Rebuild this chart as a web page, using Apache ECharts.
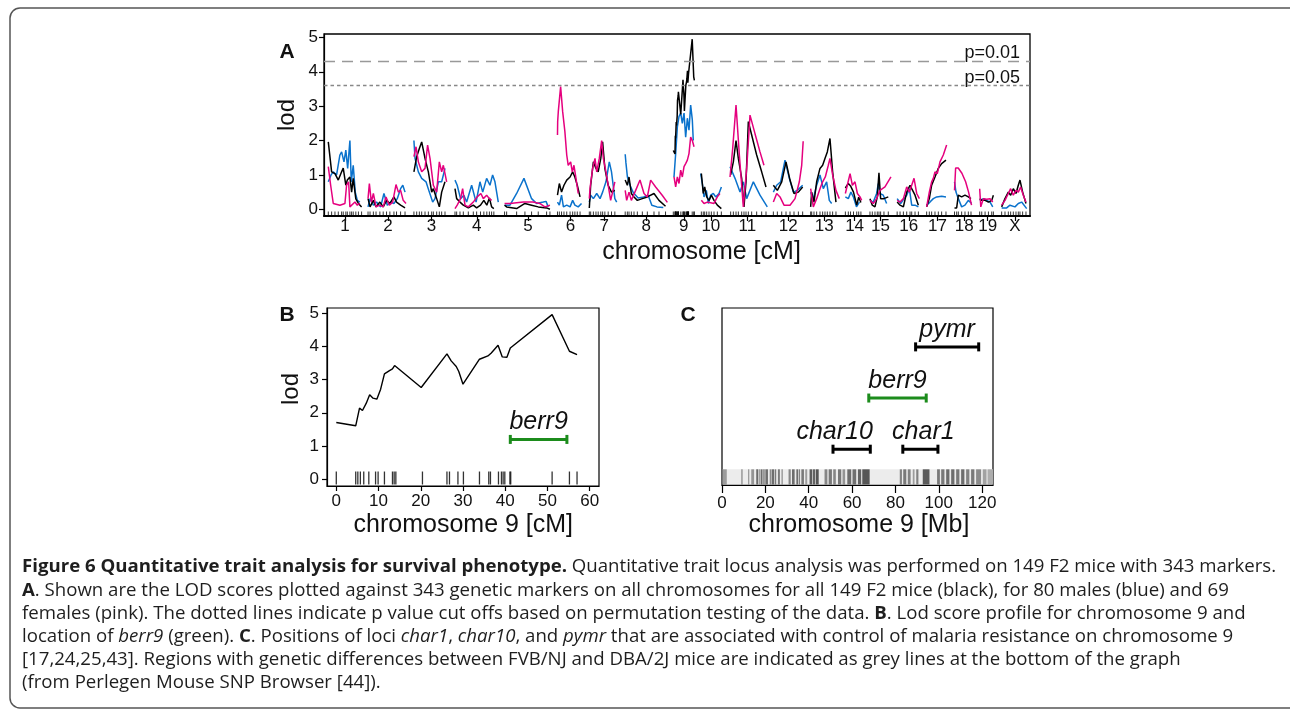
<!DOCTYPE html>
<html><head><meta charset="utf-8">
<script src="https://cdn.jsdelivr.net/npm/echarts@6/dist/echarts.min.js"></script>
<style>html,body{margin:0;padding:0;background:#fff}#c{width:1290px;height:716px}</style>
</head><body><div id="c"></div>
<script>
// ---------------- DATA ----------------
const chrNames = ['1','2','3','4','5','6','7','8','9','10','11','12','13','14','15','16','17','18','19','X'];
const chromLenCM = [92,108,95,118,127,70,81,114,57,57,108,81,82,50,58,63,60,52,43,72];

// chromosome 9 profile (all 149 mice), panel B, [cM, lod]
const chr9Pos = [0,4.6,5.5,6.2,7.1,7.9,8.7,9.6,10.5,11.4,12.5,13.3,13.8,14.2,20.1,26.2,27.2,28.4,29,30,33.9,35.9,36.7,38.3,39.3,40.4,41.2,51.1,55.2,57];
const chr9Lod = [1.71,1.61,2.14,2.07,2.29,2.54,2.44,2.41,2.71,3.17,3.26,3.32,3.42,3.42,2.76,3.77,3.56,3.39,3.24,2.86,3.61,3.71,3.80,4.03,3.68,3.67,3.95,4.95,3.85,3.75];
const chr9Markers = [0,4.6,5.1,5.7,6.5,7.7,9.3,9.9,11.4,13.3,13.7,14.1,20.4,26.2,26.8,28.8,30.1,33.9,36.1,36.5,38.4,39.1,39.5,39.9,41.1,41.3,51.1,55.2,57.0];

// genome scan, one list per chromosome of [cM, lod]
const lodAll = [
 [[0.6,1.96],[9.6,1.09],[18.6,1.04],[27.6,0.85],[36.6,1.09],[41,1.2],[48,0.7],[52,0.85],[59,0.94],[63.6,0.5],[68,0.9],[75,0.3],[82,0.17],[90.6,0.07]],
 [[0,0.31],[5.4,0.07],[14.4,0.26],[21.6,0.07],[32,0.21],[41,0.07],[50,0.26],[59,0.17],[70,0.36],[77,0.21],[88,0.12],[100,0.04]],
 [[0,1.09],[7.5,1.53],[14.7,1.77],[21,1.96],[30,1.48],[39,1.09],[48,0.5],[52.5,0.6],[61.5,0.31],[68.7,0.07],[75,0.5],[84,0.8]],
 [[0,0.6],[4.5,0.31],[13.5,0.21],[22.5,0.12],[36,0.04],[49.5,0.12],[58.5,0.04],[69,0.12],[78,0.26],[86,0.12],[93,0.33],[99,0.07],[105,0.02]],
 [[0,0.12],[5.6,0.07],[32.6,0.02],[55,0.17],[73,0.12],[91,0.07],[113.6,0.04],[122.6,0]],
 [[0,0.41],[5,0.75],[11,0.5],[17.5,0.7],[25,0.85],[34,0.94],[41,1.09],[47,0.94],[53.5,0.7],[61,0.36]],
 [[0,0.04],[3.7,0.7],[11,1.38],[18,1.19],[24,1.09],[31,1.48],[36,1.96],[42,1.19],[51,0.7],[60,0.5],[69,0.55]],
 [[0,0.85],[5.8,0.7],[10.3,0.94],[16.6,0.46],[23.8,0.36],[32.8,0.26],[46.3,0.31],[59.8,0.36],[77.8,0.46],[91.3,0.26],[109,0.09]],
 null,
 [[2.8,1.04],[8,0.46],[11.8,0.65],[17.2,0.36],[23.5,0.26],[29.8,0.41],[37,0.26],[46,0.12],[56.8,0.02]],
 [[9,1.0],[16.3,1.38],[23.5,2.0],[29.8,1.48],[38.8,0.9],[45,0.07],[50.5,0.8],[56.8,2.55],[65.8,2.16],[79.3,1.58],[92.8,1.09],[104.5,0.65]],
 [[0.4,0.7],[11.2,0.55],[23,0.8],[34.6,1.38],[45.4,0.85],[56.2,0.46],[68,0.5],[79.6,0.65]],
 [[4.2,0.07],[7,0.5],[13.2,0.21],[20.4,0.8],[29.4,1.19],[36.6,1.28],[42.9,1.48],[49.2,1.67],[56.4,2.06],[63.6,1.09],[72.6,0.21]],
 [[0,0.62],[8,0.75],[14,0.68],[22,0.5],[30.7,0.12],[36,0.35],[42,0.2]],
 [[0.5,0.31],[6.8,0.12],[14,0.07],[20.3,0.36],[24.8,1.06],[29.3,0.31],[38.3,0.31],[50,0.36]],
 [[0,0.21],[7.8,0.12],[16.8,0.07],[25.8,0.5],[34.8,0.7],[39.3,0.6],[48.3,0.41],[57.3,0.12]],
 [[0.7,0.07],[7.9,0.31],[14.2,0.7],[23.2,0.94],[32.2,1.19],[41.2,1.33],[52.9,1.43]],
 [[0,0.04],[5.8,0.04],[10.3,0.41],[19.3,0.36],[28.3,0.41],[37.3,0.36],[44.5,0.31]],
 [[0,0.31],[5.6,0.26],[14.6,0.26],[23.6,0.21],[32.6,0.26],[37,0.41]],
 [[0.4,0.07],[9.4,0.31],[18.4,0.5],[24.7,0.41],[31.9,0.6],[39.1,0.46],[45.4,0.7],[49.9,0.85],[57.1,0.5],[66.1,0.17]]
];
const lodMale = [
 [[0.6,0.8],[8,1.0],[14,1.09],[23,1.0],[32,1.58],[36.6,1.67],[43,1.38],[48,1.72],[53,1.19],[59,2.0],[62.7,0.8],[68,1.28],[73.5,0.5],[79,0.26],[86,0.21]],
 [[0,0.07],[5.4,0.31],[14.4,0.12],[23,0.21],[34,0.07],[43,0.46],[52,0.12],[61,0.21],[70,0.17],[79,0.31],[88,0.6],[94,0.7],[100,0.5]],
 [[0,2.0],[3,1.48],[12,1.09],[21,0.9],[32.7,0.8],[41.7,0.5],[50.7,0.21],[57,0.31],[66,0.8],[75,0.8],[84,1.19]],
 [[0,0.85],[6,0.7],[15,0.31],[24,0.41],[31.5,0.21],[45,0.7],[57,0.21],[67.5,0.8],[75,0.5],[85.5,0.9],[94.5,0.7],[101.7,1.0],[108,0.8],[117,0.21]],
 [[0,0.12],[14.6,0.12],[32.6,0.46],[52.4,0.9],[73,0.31],[86.6,0.17],[104.6,0.21],[112,0.23],[118,0.07]],
 [[0,0.21],[5,0.12],[11,0.41],[16,0.07],[25,0.12],[34,0.07],[41,0.26],[47,0.12],[56,0.07],[65,0.17]],
 [[0,0.21],[3.7,0.41],[11,0.31],[20,0.46],[29,0.31],[36,0.5],[45,0.8],[54,1.38],[60,1.09],[69,0.31],[74,0.21]],
 [[0,1.6],[2,1.35],[6,0.94],[13,0.7],[22,0.48],[35,0.33],[50,0.36],[62,0.41],[72,0.12],[86,0.07],[103,0.05]],
 [[1.9,0.94],[6.4,1.62],[11,2.4],[15.4,2.7],[20,2.8],[24.4,2.5],[29,2.8],[33.4,2.1],[38,2.65],[42.4,2.3],[46.9,3.03],[51.4,2.6],[54,2.0]],
 [[1,1.04],[5.5,0.75],[10,0.36],[16.3,0.55],[21.7,0.17],[28,0.41],[35.2,0.46],[41.5,0.36],[50.5,0.46],[57,0.65]],
 [[7.3,1.24],[20.8,0.9],[34.3,0.5],[43.3,0.8],[52.3,0.31],[70.3,0.8],[88.3,0.41],[108,0.07]],
 [[0.4,0.5],[9.4,0.7],[20.2,0.8],[31.9,1.43],[43.6,0.9],[54.4,0.5],[65,0.55],[79.6,0.7]],
 [[4.2,0.5],[11.4,0.31],[20.4,0.7],[29.4,1.0],[38.4,0.6],[47.4,0.8],[54.6,0.26],[61,0.17]],
 [[0,0.36],[8,0.31],[15,0.5],[22,0.35],[30,0.07],[38,0.21]],
 [[0.5,0.26],[9.5,0.21],[18.5,0.46],[23,0.75],[27.5,0.46],[36.5,0.41],[45.5,0.17]],
 [[0,0.31],[9.6,0.17],[18.6,0.31],[25.8,0.41],[33,0.6],[39.3,0.12],[48.3,0.12],[57.3,0.07]],
 [[0.7,0.12],[9.7,0.21],[18.7,0.31],[27.7,0.36],[41.2,0.38],[52.9,0.36]],
 [[0,0.8],[4,0.5],[10.3,0.31],[19.3,0.07],[28.3,0.12],[37.3,0.26],[46.3,0.17]],
 [[0,0.26],[10.1,0.31],[19.1,0.26],[28.1,0.21],[35.3,0.07]],
 [[0.4,0.04],[13.9,0.04],[22.9,0.12],[36.4,0.07],[45.4,0.17],[54.4,0.21],[68,0.02]]
];
const lodFemale = [
 [[0.6,1.24],[7,0.7],[14,0.17],[32,0.12],[45.6,0.17],[50,0.7],[55.5,0.8],[59,0.07],[63.6,0.02],[72.6,0.21],[79,0.12],[86,0.17]],
 [[0,0.31],[3.6,0.75],[9,0.21],[14.4,0.46],[21.6,0.07],[32,0.12],[41,0.07],[48.6,0.36],[57.6,0.12],[66.6,0.21],[75.6,0.72],[82,0.5],[88,0.55],[95,0.26],[102.6,0.17]],
 [[0,1.53],[5.7,1.82],[12,1.38],[21,1.09],[30,1.19],[37,1.87],[43.5,1.48],[52.5,0.7],[61.5,0.5],[68.7,1.38],[75,1.09],[79.5,1.28],[88.5,0.8]],
 [[0,0.02],[6,0.12],[15,0.31],[20.7,0.6],[27,0.12],[36,0.07],[49.5,0.21],[60,0.36],[70,0.46],[76.5,0.31],[85.5,0.41],[93,0.31],[99,0.26]],
 [[0,0.17],[14.6,0.17],[50.6,0.21],[77,0.21],[95,0.17],[109,0.07],[122.6,0.12]],
 [[0,2.16],[0.5,2.55],[2.2,2.84],[8.5,3.57],[14,2.84],[20,2.26],[25,1.58],[29,1.28],[35.6,1.38],[40,1.09],[44.5,1.28],[50,0.9],[56,0.46]],
 [[0,0.31],[1.9,0.6],[9,1.19],[15.4,1.48],[20,1.09],[27,1.48],[33.4,2.0],[38,1.48],[45,1.09],[51,0.7],[57.7,0.26],[63,0.5],[69,0.8]],
 [[0,0.55],[4,0.26],[10.3,0.5],[16.6,0.26],[28.3,0.55],[40,0.85],[50.8,0.46],[59.8,0.36],[68.8,0.85],[82.3,0.65],[100,0.41],[114,0.2]],
 [[1.9,0.94],[6.4,0.65],[11,0.94],[15.4,0.75],[20,1.14],[24.4,0.94],[29,1.24],[33.4,1.33],[38,1.43],[42.4,1.62],[46.9,2.1],[51.4,2.0],[56,1.82]],
 [[2.8,0.26],[10,0.17],[19,0.21],[28,0.19],[37,0.17],[46,0.36],[53,0.46]],
 [[7.3,0.94],[14.5,1.77],[23.5,3.03],[32.5,1.58],[43.3,0.07],[52.3,1.19],[61.3,2.74],[74.8,2.2],[88.3,1.67],[99,1.28]],
 [[0.4,0.21],[9.4,0.46],[18.4,0.36],[29.2,0.12],[45.4,0.12],[59,0.31],[70.6,0.8],[77,1.28],[81,1.98]],
 [[4.2,0.6],[11.4,0.07],[20.4,0.31],[29.4,0.6],[36.6,0.8],[43.8,0.94],[51.9,1.28],[56.4,1.48],[63.6,1.0],[72.6,0.55],[81.6,0.31]],
 [[0,0.46],[6.4,0.75],[12.7,1.04],[19,0.7],[26,0.8],[32.5,0.46],[39.7,0.36],[44,0.26]],
 [[0.5,0.26],[9.5,0.17],[18.5,0.31],[27.5,0.55],[41,0.65],[57.2,0.94]],
 [[0,0.26],[7.8,0.21],[16.8,0.31],[25.8,0.65],[33,0.5],[39.3,0.7],[45.6,0.9],[52.8,0.46],[60,0.31]],
 [[0.7,0.07],[7.9,0.5],[14.2,0.8],[18.7,0.9],[23.2,1.09],[29.5,1.04],[36.7,1.38],[45.7,1.58],[54.7,1.87]],
 [[0,0.55],[3,1.2],[10,1.2],[20,1.05],[30,0.8],[38,0.5],[46,0.12]],
 [[0,0.6],[3,0.07],[10.1,0.31],[19.1,0.29],[28.1,0.31],[35.3,0.21]],
 [[0.4,0.12],[9.4,0.26],[18.4,0.46],[24.7,0.6],[31.9,0.41],[39.1,0.55],[45.4,0.5],[51.7,0.65],[58.9,0.41],[66.1,0.21]]
];

// permutation thresholds
const thresholdP = ['0.01','0.05'];
const thresholdLod = [4.31, 3.6];

// tick labels
const lodTicks = [0,1,2,3,4,5];
const cMTicksB = [0,10,20,30,40,50,60];
const mbTicksC = [0,20,40,60,80,100,120];

// loci: panel B (cM) and panel C (Mb)
const berr9CM = [41.2, 54.6];
const lociNames = ['pymr','berr9','char10','char1'];
const lociStartMb = [89.3, 67.7, 51.2, 83.4];
const lociEndMb = [118.4, 94.2, 68.4, 99.6];
const lociRow = [3, 2, 1, 1];

// FVB/NJ vs DBA/2J differing regions [startMb, endMb, darkness]
const snpRegions = [
 [0,2.2,0.45],[8.9,9.5,0.55],[12,12.6,0.45],[13.5,14.8,0.5],[15.8,16.6,0.75],[16.9,17.4,0.6],[17.8,18.7,0.72],[19,19.7,0.6],
 [20,21.2,0.72],[22,22.8,0.55],[23,24,0.72],[24.3,25,0.65],[25.8,26.7,0.65],[27.4,28.1,0.45],[30.7,31.7,0.58],[32.3,33.5,0.72],
 [34.3,35.1,0.72],[35.4,36,0.6],[36.6,37.8,0.65],[38.4,39.3,0.45],[40.4,41.6,0.82],[41.9,43,0.78],[43.3,44.6,0.85],
 [47.3,48.6,0.58],[49.2,50.7,0.65],[51.3,52.5,0.58],[53.5,55,0.65],[55.6,56.8,0.5],[57.8,59.6,0.72],[60.2,61.9,0.7],
 [62.7,64.2,0.78],[64.7,68.1,0.85],[82,83,0.6],[83.6,85,0.65],[85.7,87,0.6],[88,88.8,0.45],[89.6,90.6,0.6],[92.6,95.7,0.82],
 [99.2,100.5,0.65],[101.1,102.6,0.65],[103.4,104.9,0.72],[105.7,107.2,0.72],[108,109.5,0.65],[110.3,111.8,0.72],
 [112.6,114.1,0.6],[114.9,116.4,0.65],[117.2,119.5,0.55],[120.3,122,0.42],[122.5,125,0.36]
];

const captionLines = [
 '{b|Figure 6 Quantitative trait analysis for survival phenotype.} Quantitative trait locus analysis was performed on 149 F2 mice with 343 markers.',
 '{b|A}. Shown are the LOD scores plotted against 343 genetic markers on all chromosomes for all 149 F2 mice (black), for 80 males (blue) and 69',
 'females (pink). The dotted lines indicate p value cut offs based on permutation testing of the data. {b|B}. Lod score profile for chromosome 9 and',
 'location of {i|berr9} (green). {b|C}. Positions of loci {i|char1}, {i|char10}, and {i|pymr} that are associated with control of malaria resistance on chromosome 9',
 '[17,24,25,43]. Regions with genetic differences between FVB/NJ and DBA/2J mice are indicated as grey lines at the bottom of the graph',
 '(from Perlegen Mouse SNP Browser [44]).'
];

// ---------------- BUILD ----------------
lodAll[8] = chr9Pos.map((p, i) => [p, chr9Lod[i]]);
const CHR_GAP = 16;
const starts = [];
let acc = 0;
chromLenCM.forEach(L => { starts.push(acc); acc += L + CHR_GAP; });
const centers = chromLenCM.map((L, i) => starts[i] + L / 2);
function toGenome(perChr) {
  const out = [];
  perChr.forEach((pts, i) => {
    pts.forEach(p => out.push([starts[i] + p[0], p[1]]));
    out.push([starts[i] + chromLenCM[i] + CHR_GAP / 2, '-']);
  });
  return out;
}
const rugA = [];
lodAll.forEach((pts, i) => {
  const xs = i === 8 ? chr9Markers : pts.map(p => p[0]);
  xs.forEach(x => rugA.push([starts[i] + x, -0.13]));
});

const FONT = '"Liberation Sans", Arial, Helvetica, sans-serif';
const BLACK = '#000', BLUE = '#0a72cc', PINK = '#e5007e', GREEN = '#1c8c1c';
const TXT = '#111';

function chrLabel(v) {
  let best = 0, bd = Infinity;
  centers.forEach((c, i) => { const d = Math.abs(c - v); if (d < bd) { bd = d; best = i; } });
  return chrNames[best];
}

function axisBase(extra) {
  return Object.assign({
    type: 'value',
    splitLine: { show: false },
    axisLine: { show: true, onZero: false, lineStyle: { color: '#000', width: 1.2 } },
  }, extra);
}

const labelShiftPx = { char10: -17, char1: 3 };

function intervalRender(names, colorFn) {
  return function (params, api) {
    const s = api.coord([api.value(0), api.value(2)]);
    const e = api.coord([api.value(1), api.value(2)]);
    const name = names[params.dataIndex];
    const col = colorFn(name);
    const cap = 4.5;
    return {
      type: 'group',
      children: [
        { type: 'line', shape: { x1: s[0], y1: s[1], x2: e[0], y2: e[1] }, style: { stroke: col, lineWidth: 3 } },
        { type: 'line', shape: { x1: s[0], y1: s[1] - cap, x2: s[0], y2: s[1] + cap }, style: { stroke: col, lineWidth: 3 } },
        { type: 'line', shape: { x1: e[0], y1: e[1] - cap, x2: e[0], y2: e[1] + cap }, style: { stroke: col, lineWidth: 3 } },
        { type: 'text', x: (s[0] + e[0]) / 2 + (labelShiftPx[name] || 0), y: s[1] - 17,
          style: { text: name, fill: TXT, font: 'italic 25px ' + FONT, align: 'center', verticalAlign: 'middle', textAlign: 'center', textVerticalAlign: 'middle' } }
      ]
    };
  };
}

// caption font size fitted to the measured line width
const mctx = document.createElement('canvas').getContext('2d');
const CAP_FAMILY = '"Open Sans", "Noto Sans", sans-serif';
mctx.font = '100px ' + CAP_FAMILY;
const capFont = 100 * 1160 / mctx.measureText(captionLines[4]).width;

const chart = echarts.init(document.getElementById('c'), null, { renderer: 'canvas' });

const tickLabel = (margin, extra) => Object.assign({ margin, fontSize: 17, color: TXT, fontFamily: FONT }, extra || {});

const graphics = [
  { type: 'rect', shape: { x: 10, y: 8, width: 1300, height: 700, r: 10 }, style: { fill: 'none', stroke: '#555', lineWidth: 1.5 }, z: -1 },
  { type: 'text', x: 287, y: 52, style: { text: 'A', fontSize: 21, fontWeight: 'bold', fontFamily: FONT, fill: TXT, textAlign: 'center', textVerticalAlign: 'middle' } },
  { type: 'text', x: 287, y: 315.5, style: { text: 'B', fontSize: 21, fontWeight: 'bold', fontFamily: FONT, fill: TXT, textAlign: 'center', textVerticalAlign: 'middle' } },
  { type: 'text', x: 688, y: 315.5, style: { text: 'C', fontSize: 21, fontWeight: 'bold', fontFamily: FONT, fill: TXT, textAlign: 'center', textVerticalAlign: 'middle' } },
  { type: 'text', x: 287.6, y: 115, rotation: Math.PI / 2, style: { text: 'lod', fontSize: 24, fontFamily: FONT, fill: TXT, textAlign: 'center', textVerticalAlign: 'middle' } },
  { type: 'text', x: 290.9, y: 389, rotation: Math.PI / 2, style: { text: 'lod', fontSize: 24, fontFamily: FONT, fill: TXT, textAlign: 'center', textVerticalAlign: 'middle' } },
  { type: 'text', x: 701.5, y: 251.7, style: { text: 'chromosome [cM]', fontSize: 25, fontFamily: FONT, fill: TXT, textAlign: 'center', textVerticalAlign: 'middle' } },
  { type: 'text', x: 463.3, y: 525.2, style: { text: 'chromosome 9 [cM]', fontSize: 25, fontFamily: FONT, fill: TXT, textAlign: 'center', textVerticalAlign: 'middle' } },
  { type: 'text', x: 859, y: 525.2, style: { text: 'chromosome 9 [Mb]', fontSize: 25, fontFamily: FONT, fill: TXT, textAlign: 'center', textVerticalAlign: 'middle' } },
  { type: 'rect', shape: { x: 722.5, y: 469.3, width: 270.5, height: 15.2 }, style: { fill: '#ececec' }, z: 0 }
];
captionLines.forEach((t, i) => {
  graphics.push({
    type: 'text', x: 22, y: 567 + i * 23.2,
    style: {
      text: t, fontSize: capFont, fontFamily: CAP_FAMILY, fill: '#1e1e1e', textAlign: 'left', textVerticalAlign: 'middle',
      rich: {
        b: { fontSize: capFont, fontFamily: CAP_FAMILY, fontWeight: 'bold', fill: '#1e1e1e' },
        i: { fontSize: capFont, fontFamily: CAP_FAMILY, fontStyle: 'italic', fill: '#1e1e1e' }
      }
    }
  });
});

const option = {
  animation: false,
  backgroundColor: '#fff',
  grid: [
    { left: 324, top: 34, width: 706, height: 182, show: true, borderColor: '#000', borderWidth: 1.3, backgroundColor: 'transparent' },
    { left: 327, top: 308, width: 272, height: 178, show: true, borderColor: '#000', borderWidth: 1.2, backgroundColor: 'transparent' },
    { left: 722, top: 308, width: 271, height: 177, show: true, borderColor: '#000', borderWidth: 1.2, backgroundColor: 'transparent' }
  ],
  xAxis: [
    axisBase({ gridIndex: 0, min: -11, max: 1897,
      axisLine: { show: true, onZero: false, lineStyle: { color: '#000', width: 2 } },
      axisTick: { show: true, customValues: centers, length: 5, lineStyle: { color: '#000', width: 1.2 } },
      axisLabel: tickLabel(2, { customValues: centers, formatter: v => chrLabel(v) }) }),
    axisBase({ gridIndex: 1, min: -2.2, max: 62.2,
      axisTick: { show: true, customValues: cMTicksB, length: 5, lineStyle: { color: '#000', width: 1.2 } },
      axisLabel: tickLabel(7, { customValues: cMTicksB }) }),
    axisBase({ gridIndex: 2, min: 0, max: 125,
      axisTick: { show: true, customValues: mbTicksC, length: 8, lineStyle: { color: '#000', width: 1.2 } },
      axisLabel: tickLabel(10, { customValues: mbTicksC }) })
  ],
  yAxis: [
    axisBase({ gridIndex: 0, min: -0.195, max: 5.1,
      axisTick: { show: true, customValues: lodTicks, length: 5, lineStyle: { color: '#000', width: 1.2 } },
      axisLabel: tickLabel(6, { customValues: lodTicks }) }),
    axisBase({ gridIndex: 1, min: -0.2, max: 5.15,
      axisTick: { show: true, customValues: lodTicks, length: 5, lineStyle: { color: '#000', width: 1.2 } },
      axisLabel: tickLabel(8, { customValues: lodTicks }) }),
    { type: 'value', gridIndex: 2, min: 0.3, max: 3.76, show: false }
  ],
  graphic: { elements: graphics },
  series: [
    { type: 'line', xAxisIndex: 0, yAxisIndex: 0, data: [], silent: true, z: 1,
      markLine: { silent: true, symbol: 'none', animation: false,
        data: thresholdLod.map((v, i) => ({
          yAxis: v,
          lineStyle: { color: i === 0 ? '#999' : '#888', width: 1.3, type: i === 0 ? [11, 7] : [3.5, 3] },
          label: { show: true, position: 'insideEndTop', formatter: 'p=' + thresholdP[i], color: TXT, fontSize: 18, fontFamily: FONT, distance: [10, -1] }
        })) } },
    { type: 'line', xAxisIndex: 0, yAxisIndex: 0, data: toGenome(lodMale), symbol: 'none', silent: true, z: 2,
      connectNulls: false, lineStyle: { color: BLUE, width: 1.5 } },
    { type: 'line', xAxisIndex: 0, yAxisIndex: 0, data: toGenome(lodAll), symbol: 'none', silent: true, z: 3,
      connectNulls: false, lineStyle: { color: BLACK, width: 1.5 } },
    { type: 'line', xAxisIndex: 0, yAxisIndex: 0, data: toGenome(lodFemale), symbol: 'none', silent: true, z: 4,
      connectNulls: false, lineStyle: { color: PINK, width: 1.5 } },
    { type: 'scatter', xAxisIndex: 0, yAxisIndex: 0, data: rugA, symbol: 'rect', symbolSize: [1, 4.5], silent: true,
      itemStyle: { color: '#000' }, z: 2 },
    // panel B
    { type: 'line', xAxisIndex: 1, yAxisIndex: 1, data: chr9Pos.map((p, i) => [p, chr9Lod[i]]), symbol: 'none', silent: true,
      lineStyle: { color: BLACK, width: 1.4 } },
    { type: 'scatter', xAxisIndex: 1, yAxisIndex: 1, data: chr9Markers.map(p => [p, 0.04]), symbol: 'rect', symbolSize: [1.3, 13],
      silent: true, itemStyle: { color: '#000' } },
    { type: 'custom', xAxisIndex: 1, yAxisIndex: 1, silent: true, data: [[berr9CM[0], berr9CM[1], 1.2]],
      encode: { x: [0, 1], y: 2 }, renderItem: intervalRender(['berr9'], () => GREEN) },
    // panel C
    { type: 'custom', xAxisIndex: 2, yAxisIndex: 2, silent: true, z: 1, data: snpRegions, encode: { x: [0, 1] },
      renderItem: function (params, api) {
        const a = api.coord([api.value(0), 2]);
        const b = api.coord([api.value(1), 2]);
        const cs = params.coordSys;
        return { type: 'rect', shape: { x: a[0], y: cs.y + cs.height - 15.7, width: Math.max(0.8, b[0] - a[0]), height: 15.2 },
          style: { fill: 'rgba(60,60,60,' + api.value(2) + ')' } };
      } },
    { type: 'custom', xAxisIndex: 2, yAxisIndex: 2, silent: true, z: 3,
      data: lociNames.map((n, i) => [lociStartMb[i], lociEndMb[i], lociRow[i]]),
      encode: { x: [0, 1], y: 2 },
      renderItem: intervalRender(lociNames, n => n === 'berr9' ? GREEN : '#000') }
  ]
};
chart.setOption(option);
</script></body></html>
